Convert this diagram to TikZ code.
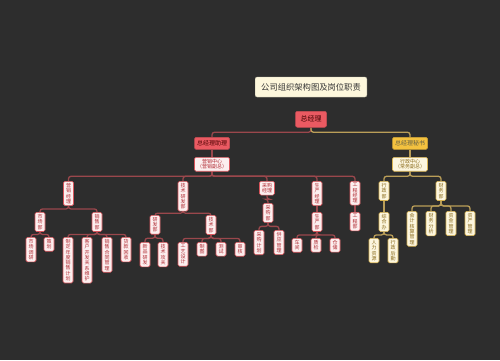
\documentclass[tikz,border=0pt]{standalone}
\usepackage{fontspec}
\newfontfamily\cjk{Noto Sans CJK SC}
\usetikzlibrary{calc}
\pgfdeclarelayer{bglayer}
\pgfdeclarelayer{connlayer}
\pgfsetlayers{bglayer,connlayer,main}
\definecolor{bg}{HTML}{2D2D2D}
\definecolor{lline}{HTML}{9A474C}
\definecolor{rline}{HTML}{BA9E58}
\definecolor{lfill}{HTML}{FCEFEF}
\definecolor{ldraw}{HTML}{D8545B}
\definecolor{ltext}{HTML}{B02A32}
\definecolor{rfill}{HTML}{FCF6DF}
\definecolor{rdraw}{HTML}{D9B452}
\definecolor{rtext}{HTML}{8A6A1A}
\definecolor{redbox}{HTML}{EA5A62}
\definecolor{yelbox}{HTML}{F3C13F}
\definecolor{titlefill}{HTML}{FDF7DC}
\newcommand\conn[3]{\draw[#1] (#2.south) -- ($(#2.south)!0.5!(#2.south|-#3.north)$) -| (#3.north);}
\tikzset{
  basebox/.style={anchor=north, rounded corners=1.5pt, inner xsep=2.5pt, inner ysep=2pt,
    align=center, line width=0.6pt, font={\cjk\fontsize{5}{5.3}\selectfont}},
  lbox/.style={basebox, fill=lfill, draw=ldraw, text=ltext},
  rbox/.style={basebox, fill=rfill, draw=rdraw, text=rtext},
  lcon/.style={draw=lline, line width=1.3pt, rounded corners=2.5pt},
  rcon/.style={draw=rline, line width=1.3pt, rounded corners=2.5pt},
}
\begin{document}
\begin{tikzpicture}[x=1pt,y=-1pt]
\begin{pgfonlayer}{bglayer}
\fill[bg] (0,0) rectangle (500,360);
\end{pgfonlayer}
\useasboundingbox (0,0) rectangle (500,360);

% title
\node[fill=titlefill, draw=titlefill!80!black, line width=0.4pt, rounded corners=2pt, inner xsep=6pt,
  minimum height=20pt, text=black!80, font={\cjk\fontsize{8.3}{9}\selectfont}] (title) at (311,87) {公司组织架构图及岗位职责};

% root
\node[anchor=north, fill=redbox, draw=redbox!85!black, line width=0.5pt, rounded corners=2pt, inner xsep=5pt,
  minimum height=16pt, text=black!75!red, font={\cjk\fontsize{7}{8}\selectfont}] (gm) at (311,111) {总经理};

\node[anchor=north, fill=redbox, draw=redbox!85!black, line width=0.5pt, rounded corners=1.5pt, inner xsep=2.5pt,
  minimum height=12pt, text=black!70!red, font={\cjk\fontsize{6}{7}\selectfont}] (as) at (212,137) {总经理助理};
\node[anchor=north, fill=yelbox, draw=yelbox!85!black, line width=0.5pt, rounded corners=1.5pt, inner xsep=2.5pt,
  minimum height=12pt, text=black!70!yellow, font={\cjk\fontsize{6}{7}\selectfont}] (se) at (410,137) {总经理秘书};

\node[lbox] (mc) at (212,157) {营销中心\\（营销副总）};
\node[rbox] (pc) at (410,157) {行政中心\\（常务副总）};

% left level A
\node[lbox] (a1) at (68.5,181) {营\\销\\经\\理};
\node[lbox] (a2) at (183,181) {技\\术\\研\\发\\部};
\node[lbox] (a3) at (267,181) {采购\\经理};
\node[lbox] (a4) at (317,181) {生\\产\\经\\理};
\node[lbox] (a5) at (355,181) {工\\程\\经\\理};
% left level B
\node[lbox] (b11) at (40,212) {市\\场\\部};
\node[lbox] (b12) at (97,212) {销\\售\\部};
\node[lbox] (b21) at (155,215) {研\\发\\部};
\node[lbox] (b22) at (211,215) {技\\术\\部};
\node[lbox] (b31) at (268,203) {采\\购\\部};
\node[lbox] (b41) at (317,212) {生\\产\\部};
\node[lbox] (b51) at (355,212) {工\\程\\部};
% left level C
\node[lbox] (c111) at (31,237) {市\\场\\调\\研};
\node[lbox] (c112) at (49,237) {策\\划};
\node[lbox] (c121) at (68,237) {制\\定\\年\\度\\销\\售\\计\\划};
\node[lbox] (c122) at (87,237) {客\\户\\开\\发\\关\\系\\维\\护};
\node[lbox] (c123) at (107,237) {销\\售\\合\\同\\管\\理};
\node[lbox] (c124) at (126,237) {货\\款\\回\\收};
\node[lbox] (c211) at (145,242) {新\\品\\研\\发};
\node[lbox] (c212) at (163,242) {技\\术\\攻\\关};
\node[lbox] (c221) at (183,242) {工\\艺\\设\\计};
\node[lbox] (c222) at (202,242) {制\\图};
\node[lbox] (c223) at (221,242) {测\\试};
\node[lbox] (c224) at (240,242) {审\\核};
\node[lbox] (c311) at (259,230) {采\\购\\计\\划};
\node[lbox] (c312) at (279,230) {供\\应\\管\\理};
\node[lbox] (c411) at (297,238) {车\\间};
\node[lbox] (c412) at (316,238) {质\\检};
\node[lbox] (c413) at (335,238) {仓\\储};

% right
\node[rbox] (r1) at (384,181) {行\\政\\部};
\node[rbox] (r2) at (441,181) {财\\务\\部};
\node[rbox] (r11) at (384,212) {综\\合\\办};
\node[rbox] (r111) at (374,238) {人\\力\\资\\源};
\node[rbox] (r112) at (393,238) {行\\政\\后\\勤};
\node[rbox] (r21) at (412,211) {会\\计\\核\\算\\管\\理};
\node[rbox] (r22) at (431,211) {财\\务\\分\\析};
\node[rbox] (r23) at (451,211) {资\\金\\管\\理};
\node[rbox] (r24) at (470,211) {资\\产\\管\\理};

% connectors
\begin{pgfonlayer}{connlayer}
\conn{lcon}{gm}{as}
\conn{rcon}{gm}{se}
\conn{lcon}{as}{mc}
\conn{rcon}{se}{pc}
\foreach \c in {a1,a2,a3,a4,a5} {\conn{lcon}{mc}{\c}}
\foreach \c in {b11,b12} {\conn{lcon}{a1}{\c}}
\foreach \c in {b21,b22} {\conn{lcon}{a2}{\c}}
\conn{lcon}{a3}{b31}
\conn{lcon}{a4}{b41}
\conn{lcon}{a5}{b51}
\foreach \c in {c111,c112} {\conn{lcon}{b11}{\c}}
\foreach \c in {c121,c122,c123,c124} {\conn{lcon}{b12}{\c}}
\foreach \c in {c211,c212} {\conn{lcon}{b21}{\c}}
\foreach \c in {c221,c222,c223,c224} {\conn{lcon}{b22}{\c}}
\foreach \c in {c311,c312} {\conn{lcon}{b31}{\c}}
\foreach \c in {c411,c412,c413} {\conn{lcon}{b41}{\c}}
\foreach \c in {r1,r2} {\conn{rcon}{pc}{\c}}
\conn{rcon}{r1}{r11}
\foreach \c in {r111,r112} {\conn{rcon}{r11}{\c}}
\foreach \c in {r21,r22,r23,r24} {\conn{rcon}{r2}{\c}}
\end{pgfonlayer}
\end{tikzpicture}
\end{document}
